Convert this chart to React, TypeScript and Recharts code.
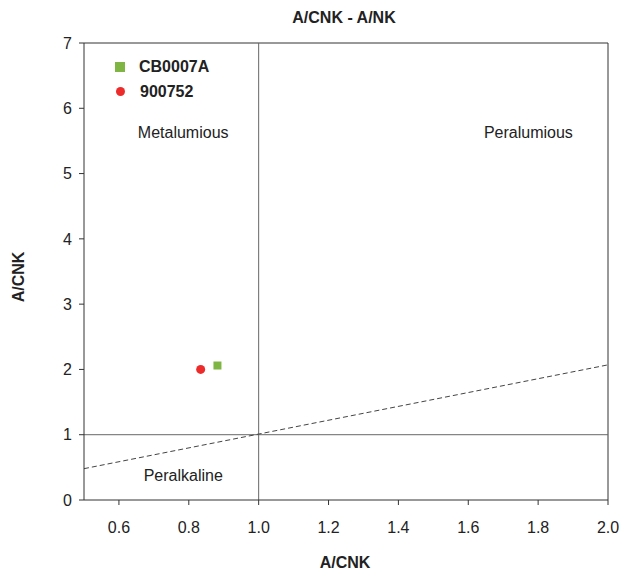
import React from "react";
import {
  ScatterChart,
  Scatter,
  XAxis,
  YAxis,
  ReferenceLine,
  ReferenceDot,
} from "recharts";

const cb0007a = [{ x: 0.882, y: 2.06 }];
const s900752 = [{ x: 0.834, y: 2.0 }];
const xTicks = [0.6, 0.8, 1.0, 1.2, 1.4, 1.6, 1.8, 2.0];
const yTicks = [0, 1, 2, 3, 4, 5, 6, 7];
const divider = [
  { x: 0.5, y: 0.48 },
  { x: 2.0, y: 2.07 },
];
const fields = [
  { name: "Metalumious", x: 0.784, y: 5.63 },
  { name: "Peralumious", x: 1.772, y: 5.63 },
  { name: "Peralkaline", x: 0.784, y: 0.38 },
];
const series = [
  { name: "CB0007A", color: "#7fb542", shape: "square" },
  { name: "900752", color: "#ee2b2b", shape: "circle" },
];

const font = "'Liberation Sans', Arial, sans-serif";
const axisColor = "#333";
const textColor = "#222";

// legend drawn as overlay so it doesn't eat plot space
const LegendBox = () => (
  <div
    style={{
      position: "absolute",
      left: 115,
      top: 54,
      fontFamily: font,
      fontSize: 16,
      fontWeight: "bold",
      color: textColor,
    }}
  >
    {series.map((s) => (
      <div key={s.name} style={{ display: "flex", alignItems: "center", height: 25 }}>
        <div
          style={{
            width: s.shape === "square" ? 10 : 9,
            height: s.shape === "square" ? 10 : 9,
            borderRadius: s.shape === "circle" ? "50%" : 0,
            backgroundColor: s.color,
            marginLeft: s.shape === "circle" ? 1 : 0,
            marginRight: s.shape === "circle" ? 15 : 14,
          }}
        />
        <span>{s.name}</span>
      </div>
    ))}
  </div>
);

export default function App() {
  return (
    <div style={{ position: "absolute", left: 0, top: 0, width: 619, height: 572, background: "#fff", fontFamily: font }}>
      <ScatterChart width={619} height={572} margin={{ top: 43, right: 11, left: 0, bottom: 0 }}>
        <XAxis
          type="number"
          dataKey="x"
          domain={[0.5, 2.0]}
          ticks={xTicks}
          tickFormatter={(v: number) => v.toFixed(1)}
          height={72}
          stroke={axisColor}
          tickSize={5}
          tick={{ fill: textColor, fontSize: 16, fontFamily: font, dy: 15 }}
          allowDataOverflow
        />
        <YAxis
          type="number"
          dataKey="y"
          domain={[0, 7]}
          ticks={yTicks}
          width={84}
          stroke={axisColor}
          tickSize={5}
          tick={{ fill: textColor, fontSize: 16, fontFamily: font, dx: -5 }}
          allowDataOverflow
        />
        <ReferenceLine y={7} stroke={axisColor} />
        <ReferenceLine x={2.0} stroke={axisColor} />
        <ReferenceLine x={1.0} stroke="#666" />
        <ReferenceLine y={1.0} stroke="#666" />
        <ReferenceLine
          segment={[divider[0], divider[1]]}
          stroke="#444"
          strokeDasharray="5 3"
        />
        {fields.map((f) => (
          <ReferenceDot
            key={f.name}
            x={f.x}
            y={f.y}
            r={0}
            stroke="none"
            fill="none"
            label={{ value: f.name, position: "center", fill: textColor, fontSize: 16, fontFamily: font }}
          />
        ))}
        <Scatter
          name="CB0007A"
          data={cb0007a}
          fill={series[0].color}
          shape="square"
          isAnimationActive={false}
          size={81}
        />
        <Scatter
          name="900752"
          data={s900752}
          fill={series[1].color}
          shape="circle"
          isAnimationActive={false}
          size={50}
        />
      </ScatterChart>
      <LegendBox />
      <div style={{ position: "absolute", top: 9, left: 244, width: 200, textAlign: "center", fontSize: 16, fontWeight: "bold", color: textColor }}>
        A/CNK - A/NK
      </div>
      <div style={{ position: "absolute", top: 554, left: 245, width: 200, textAlign: "center", fontSize: 16, fontWeight: "bold", color: textColor }}>
        A/CNK
      </div>
      <div
        style={{
          position: "absolute",
          top: 268,
          left: -81,
          width: 200,
          textAlign: "center",
          fontSize: 16,
          fontWeight: "bold",
          color: textColor,
          transform: "rotate(-90deg)",
        }}
      >
        A/CNK
      </div>
    </div>
  );
}
